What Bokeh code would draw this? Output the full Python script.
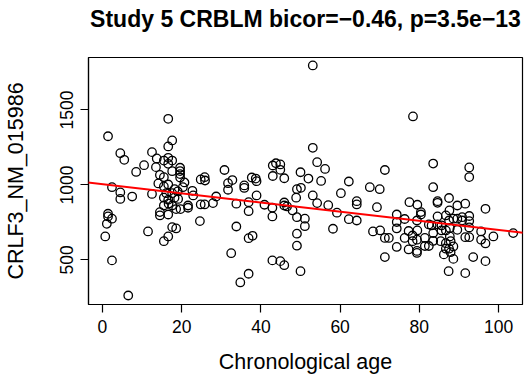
from bokeh.plotting import figure
from bokeh.models import Range1d, FixedTicker, Slope, ColumnDataSource
from bokeh.embed import file_html
from bokeh.resources import INLINE

title_text = "Study 5 CRBLM bicor=\u22120.46, p=3.5e\u221213"
x_label = "Chronological age"
y_label = "CRLF3_NM_015986"
x_ticks = [0, 20, 40, 60, 80, 100]
y_ticks = [500, 1000, 1500]

age = [
    0.7, 1.4, 1.4, 1.4, 2.4, 1.1, 2.4, 2.4, 4.5, 5.5, 4.5, 4.5, 6.5, 7.5, 8.5, 10.5, 11.5,
    12.5, 13.7, 13.5, 12.5, 14.5, 15.5, 14.1, 16.6, 17.6, 16.6, 16.6, 17.6, 15.5, 16.6, 17.6,
    19.6, 19.6, 19.6, 19.6, 20.7, 15.5, 16.6, 18.2, 19.0, 17.6, 16.1, 20.3, 22.7, 22.9, 15.5,
    16.6, 18.2, 19.1, 16.7, 15.5, 17.6, 18.6, 19.7, 21.6, 21.6, 14.5, 14.5, 16.6, 17.6, 18.6,
    16.6, 15.5, 24.8, 25.8, 24.6, 25.8, 24.8, 25.9, 27.9, 28.7,
    30.8, 31.7, 32.8, 31.7, 35.8, 35.8, 37.7, 38.7, 38.9, 43.0, 43.8, 44.9, 44.9, 43.0, 45.9,
    50.0, 52.0, 53.1, 53.1, 54.2, 56.2, 55.2, 62.2, 67.5, 70.0, 38.9, 33.8, 36.9, 36.9, 40.9,
    42.9, 42.9, 45.9, 45.9, 46.6, 48.0, 49.1, 50.1, 48.9, 49.1, 51.1, 51.1, 53.1, 54.2, 57.0,
    59.2, 60.2, 64.2, 64.2, 62.2, 64.2, 69.3, 58.2, 68.3, 70.1, 33.8, 36.9, 37.9, 49.1, 49.1,
    32.5, 42.9, 44.9, 45.9, 36.9, 34.8, 50.0,
    71.3, 78.4, 83.5, 92.6, 92.6, 83.5, 84.6, 84.6, 87.5, 77.5, 79.5, 80.4, 80.4, 74.3, 74.3,
    74.3, 76.3, 79.4, 82.4, 83.1, 84.6, 86.7, 87.5, 84.6, 85.6, 71.3, 72.3, 77.3, 79.5, 78.3,
    76.3, 78.3, 79.4, 81.4, 81.4, 82.4, 83.5, 83.5, 85.6, 86.7, 87.7, 87.7, 85.4, 86.7, 87.9,
    86.7, 87.5, 87.9, 86.2, 74.3, 77.3, 79.4, 79.4, 88.6, 71.3, 87.4, 91.6, 89.6, 91.6, 87.6,
    88.6, 89.6, 90.8, 90.8, 92.6, 92.6, 89.6, 95.6, 95.6, 96.7, 98.7, 103.7, 91.6, 92.6, 88.6,
    93.6, 96.7, 96.7, 92.6,
]
expression = [
    657, 1325, 808, 790, 775, 741, 985, 497, 1212, 1168, 950, 907, 263, 923, 1087, 1132, 690,
    1219, 1177, 1119, 940, 1067, 1052, 1010, 1441, 1297, 1257, 1181, 1163, 1163, 1141, 1092,
    1115, 1093, 1073, 1050, 1017, 990, 1003, 972, 957, 945, 945, 985, 961, 930, 915,
    901, 915, 907, 875, 863, 863, 839, 839, 863, 848, 819, 797, 803, 719, 710,
    657, 625, 870, 870, 759, 1052, 1037, 1030, 879, 923,
    1100, 1012, 1033, 968, 997, 980, 1050, 1043, 1025, 1130, 1145, 1137, 1101, 1060, 1045,
    1085, 1043, 1797, 1248, 1152, 1107, 1027, 1023, 985, 972, 930, 875, 885, 825, 868,
    848, 790, 883, 863, 857, 830, 972, 981, 915, 785, 775, 725, 930, 879, 865,
    815, 945, 892, 870, 772, 763, 852, 708, 690, 697, 723, 645, 661, 675, 595,
    545, 497, 492, 465, 408, 350, 425,
    1100, 1457, 1143, 1117, 1053, 985, 892, 881, 913, 885, 868, 819, 803, 803, 753,
    710, 773, 763, 737, 730, 790, 797, 763, 737, 730, 647, 647, 693, 697, 663,
    647, 625, 635, 647, 593, 593, 679, 627, 697, 697, 713, 657, 625, 612, 625,
    575, 575, 552, 537, 587, 570, 560, 547, 507, 519, 425, 412, 863, 875, 830,
    775, 775, 785, 763, 793, 759, 701, 690, 635, 610, 657, 679, 652, 652, 590,
    519, 492, 841, 717,
]
fit_intercept = 1005.0
fit_slope = -3.05

FONT = "Liberation Sans"

src = ColumnDataSource(data=dict(age=age, expression=expression))

p = figure(
    width=529, height=382,
    x_range=Range1d(-3.53, 106.05), y_range=Range1d(203, 1850),
    output_backend="svg", toolbar_location=None,
    min_border_left=87, min_border_right=7, min_border_top=57, min_border_bottom=78,
    title=title_text + "\n ",
)
p.title.align = "center"
p.title.text_font = FONT
p.title.text_font_size = "23px"
p.title.text_font_style = "bold"
p.title.text_color = "black"
p.title.text_line_height = 1.0
p.title.standoff = 0

p.background_fill_color = "white"
p.border_fill_color = "white"
p.outline_line_color = "black"
p.outline_line_width = 1.2
p.xgrid.visible = False
p.ygrid.visible = False

p.scatter("age", "expression", source=src, marker="circle", size=8.5,
          fill_color=None, line_color="black", line_width=1.3)

p.add_layout(Slope(gradient=fit_slope, y_intercept=fit_intercept,
                   line_color="red", line_width=2))

for ax in (p.xaxis[0], p.yaxis[0]):
    ax.axis_line_color = "black"
    ax.axis_line_width = 1.2
    ax.major_tick_line_color = "black"
    ax.major_tick_line_width = 1.2
    ax.major_tick_out = 8
    ax.major_tick_in = 0
    ax.minor_tick_line_color = None
    ax.major_label_text_font = FONT
    ax.major_label_text_font_size = "17.5px"
    ax.major_label_text_color = "black"
    ax.axis_label_text_font = FONT
    ax.axis_label_text_font_size = "21.5px"
    ax.axis_label_text_font_style = "normal"
    ax.axis_label_text_color = "black"
    ax.major_label_standoff = 7

p.xaxis[0].ticker = FixedTicker(ticks=x_ticks)
p.yaxis[0].ticker = FixedTicker(ticks=y_ticks)
p.yaxis[0].major_label_orientation = "vertical"
p.xaxis[0].axis_label = x_label
p.yaxis[0].axis_label = y_label
p.xaxis[0].axis_label_standoff = 14
p.yaxis[0].axis_label_standoff = 30

open("out.html", "w").write(file_html(p, INLINE))
